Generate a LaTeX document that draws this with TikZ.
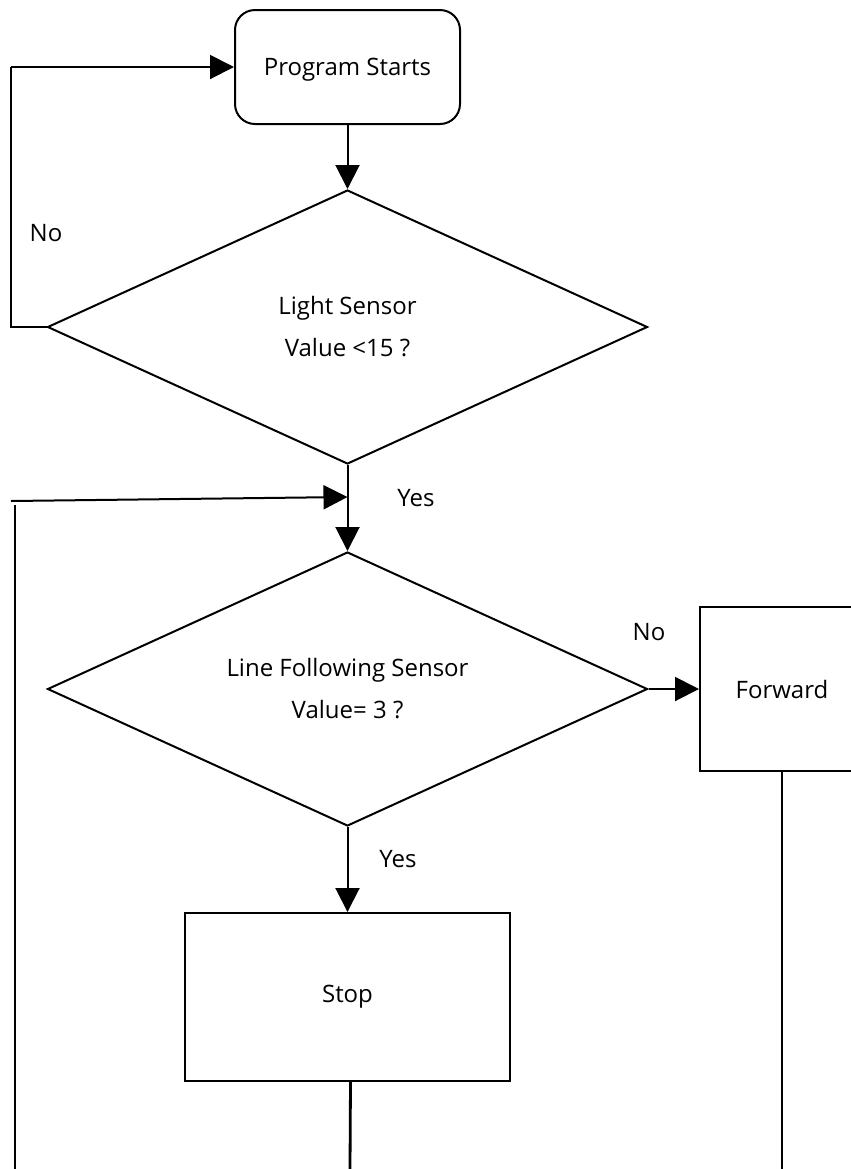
\documentclass[tikz,border=0pt]{standalone}
\usepackage{fontspec}
\setmainfont{Open Sans}
\usetikzlibrary{positioning,shapes.geometric,arrows.meta}

\tikzset{
    flow/.style={line width=1pt,-{Triangle[length=12pt,width=12pt]}},
    wire/.style={line width=1pt},
    startbox/.style={draw,line width=1pt,rounded corners=10pt,
        minimum width=112.5pt,minimum height=57pt,inner sep=0pt},
    askbox/.style={draw,diamond,line width=1pt,inner sep=0pt,
        minimum width=300pt,minimum height=137pt},
    asktext/.style={align=center,font=\fontsize{12}{21}\selectfont},
    actbox/.style={draw,rectangle,line width=1pt,inner sep=0pt},
    tag/.style={font=\fontsize{12}{14}\selectfont},
}

\begin{document}
\begin{tikzpicture}[x=0.5pt,y=-0.5pt,font=\fontsize{12}{14}\selectfont]
    \useasboundingbox (0,0) rectangle (851,1169);
    %% boxes
    \node[startbox] (start) at (347.5,67) {};
    \node (starttxt) at ([yshift=-1.5pt]start.center) {Program Starts};
    \node[askbox] (light) at (347.5,327) {};
    \node[asktext] (lighttxt) at (light.center) {Light Sensor\\Value <15 ?};
    \node[askbox] (line) at (347.5,689) {};
    \node[asktext] (linetxt) at (line.center) {Line Following Sensor\\Value= 3 ?};
    \node[actbox,minimum width=82pt,minimum height=82pt] (fwd) at (782,689) {Forward};
    \node[actbox,minimum width=162.5pt,minimum height=84pt] (stop) at (347.5,997) {Stop};
    % free ends
    \coordinate (loopL) at (11,327);
    \coordinate (loopT) at (11,67);
    \coordinate (join) at (347.5,497);
    \coordinate (backL) at (11,501);
    \coordinate (leftT) at (15,505);
    \coordinate (leftB) at (15,1169);
    \coordinate (fwdB) at (782,1169);
    \coordinate (stopB) at (350,1169);
    % labels
    \node[tag] (no1) at (46,233) {No};
    \node[tag] (yes1) at (416,498) {Yes};
    \node[tag] (no2) at (649,632) {No};
    \node[tag] (yes2) at (398,859) {Yes};
    % connectors
    \draw[flow] (start) -- (light);
    \draw[wire] (light.west) -- (loopL) -- (loopT);
    \draw[flow] (loopT) -- (start.west);
    \draw[flow] (light.south) -- (line.north);
    \draw[flow] (backL) -- (join);
    \draw[wire] (leftT) -- (leftB);
    \draw[flow] (line.east) -- (fwd.west);
    \draw[wire] (fwd.south) -- (fwdB);
    \draw[flow] (line.south) -- (stop.north);
    \draw[wire,line width=1.4pt] ([xshift=1.5pt]stop.south) -- (stopB);
\end{tikzpicture}
\end{document}
